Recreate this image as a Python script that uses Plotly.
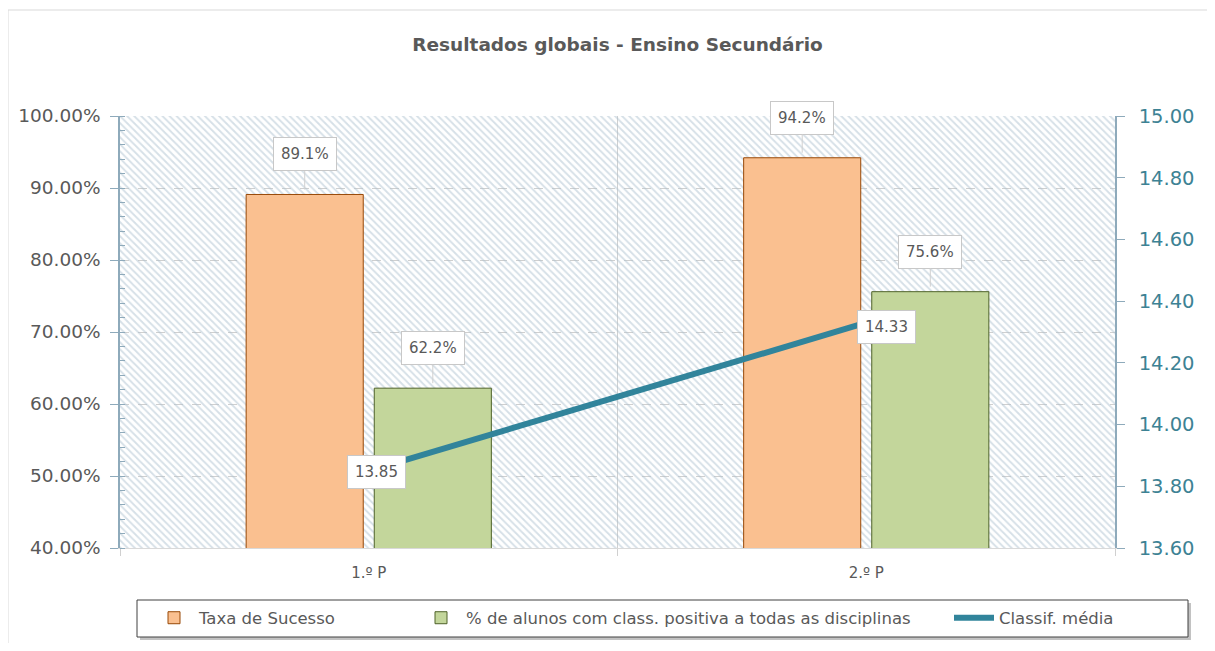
import plotly.graph_objects as go

categories = ["1.º P", "2.º P"]
taxa_sucesso = [0.891, 0.942]
pct_positiva = [0.622, 0.756]
classif_media = [13.85, 14.33]

series_names = ["Taxa de Sucesso",
                "% de alunos com class. positiva a todas as disciplinas",
                "Classif. média"]
title_text = "Resultados globais - Ensino Secundário"

FONT = "DejaVu Sans"
GREY = "#595959"
AXIS = "#8eaabb"
TEAL = "#31849B"
BARGAP = 0.485
GROUPGAP = 0.086

W, H = 1199, 635
L, T, R, B = 112, 108, 92, 95
PW, PH = W - L - R, H - T - B


def px(x):  # screenshot x -> paper x
    return (x - 8 - L) / PW


def py(y):  # screenshot y -> paper y
    return (H - B + 8 - y) / PH


fig = go.Figure()

# hatched plot-area background on the hidden base axes
fig.add_trace(go.Bar(
    x=[0.5], y=[1], width=[1], xaxis="x", yaxis="y",
    marker=dict(color="rgba(0,0,0,0)", line=dict(width=0),
                pattern=dict(shape="\\", fgcolor="#adc1d0", bgcolor="rgba(0,0,0,0)",
                             size=5, solidity=0.38)),
    hoverinfo="skip", showlegend=False))

fig.add_trace(go.Bar(
    x=categories, y=taxa_sucesso, name=series_names[0], xaxis="x2", yaxis="y2",
    marker=dict(color="#FAC090", line=dict(color="#984807", width=1)),
    legend="legend"))
fig.add_trace(go.Bar(
    x=categories, y=pct_positiva, name=series_names[1], xaxis="x2", yaxis="y2",
    marker=dict(color="#C3D69B", line=dict(color="#4F6228", width=1)),
    legend="legend2"))
fig.add_trace(go.Scatter(
    x=categories, y=classif_media, name=series_names[2], xaxis="x2", yaxis="y3",
    mode="lines", line=dict(color=TEAL, width=6), legend="legend3"))

slot = (1 - BARGAP) / 2
annotations = []
for i, cat in enumerate(categories):
    for j, vals in enumerate([taxa_sucesso, pct_positiva]):
        xc = i + (j - 0.5) * slot
        annotations.append(dict(
            x=xc, y=vals[i], xref="x2", yref="y2",
            text=f"{vals[i]*100:.1f}%", showarrow=True, arrowhead=0,
            arrowcolor="#d0d0d0", arrowwidth=1, ax=0, ay=-40, standoff=5,
            bgcolor="white", bordercolor="#c8c8c8", borderwidth=1, borderpad=7,
            font=dict(family=FONT, size=15, color=GREY)))
line_shift = [8, 20]
line_yshift = [-1, -4]
for i, cat in enumerate(categories):
    annotations.append(dict(
        x=i, y=classif_media[i], xref="x2", yref="y3",
        text=f"{classif_media[i]:.2f}", showarrow=False,
        xshift=line_shift[i], yshift=line_yshift[i],
        bgcolor="white", bordercolor="#c8c8c8", borderwidth=1, borderpad=7,
        font=dict(family=FONT, size=15, color=GREY)))

leg_common = dict(orientation="h", y=py(618), yanchor="middle", xanchor="left",
                  bgcolor="rgba(0,0,0,0)", borderwidth=0,
                  font=dict(family=FONT, size=16.5, color=GREY), itemwidth=40)

fig.update_layout(
    width=W, height=H,
    margin=dict(l=L, r=R, t=T, b=B, autoexpand=False),
    paper_bgcolor="white", plot_bgcolor="white",
    barmode="group", bargap=BARGAP, bargroupgap=GROUPGAP,
    title=dict(text=f"<b>{title_text}</b>", x=0.5, xanchor="center",
               y=1 - 37 / H, yanchor="middle", xref="paper",
               font=dict(family=FONT, size=18.5, color=GREY)),
    font=dict(family=FONT, size=14, color=GREY),
    xaxis=dict(range=[0, 1], visible=False, fixedrange=True),
    yaxis=dict(range=[0, 1], visible=False, fixedrange=True),
    xaxis2=dict(overlaying="x", type="category", categoryorder="array",
                categoryarray=categories, range=[-0.5, 1.5],
                tickson="boundaries", showgrid=True, gridcolor="#d0d0d0", gridwidth=1,
                ticks="outside", ticklen=7, tickcolor="#d0d0d0",
                showline=True, linecolor="#d9d9d9", zeroline=False,
                ticklabelstandoff=11,
                tickfont=dict(family=FONT, size=15, color=GREY)),
    yaxis2=dict(overlaying="y", side="left", range=[0.4, 1.0], dtick=0.1,
                tickformat=".2%", showgrid=True, gridcolor="#cfcfcf", griddash="dash",
                showline=True, linecolor=AXIS, linewidth=1.5,
                ticks="outside", ticklen=8, tickcolor=AXIS, ticklabelstandoff=6,
                minor=dict(dtick=0.02, ticks="inside", ticklen=5, tickcolor=AXIS, showgrid=False),
                zeroline=False,
                tickfont=dict(family=FONT, size=18.5, color=GREY)),
    yaxis3=dict(overlaying="y", side="right", range=[13.6, 15.0], dtick=0.2,
                tickformat=".2f", showgrid=False,
                showline=True, linecolor=AXIS, linewidth=1.5,
                ticks="outside", ticklen=8, tickcolor=AXIS, zeroline=False,
                ticklabelstandoff=10,
                tickfont=dict(family=FONT, size=19.5, color="#3d8294")),
    legend=dict(x=px(149), **leg_common),
    legend2=dict(x=px(416), **leg_common),
    legend3=dict(x=px(949), **leg_common),
    annotations=annotations,
    shapes=[
        # chart outer border
        dict(type="rect", xref="paper", yref="paper",
             x0=px(8), x1=px(1213), y0=py(660), y1=py(10),
             line=dict(color="#d9d9d9", width=1), layer="below"),
        # legend box shadow
        dict(type="rect", xref="paper", yref="paper",
             x0=px(140), x1=px(1191), y0=py(640), y1=py(603),
             line=dict(width=0), fillcolor="rgba(120,120,120,0.45)", layer="below"),
        # legend box
        dict(type="rect", xref="paper", yref="paper",
             x0=px(137), x1=px(1188), y0=py(637), y1=py(600),
             line=dict(color="#404040", width=1), fillcolor="white", layer="below"),
    ],
)

fig.write_html("out.html")
